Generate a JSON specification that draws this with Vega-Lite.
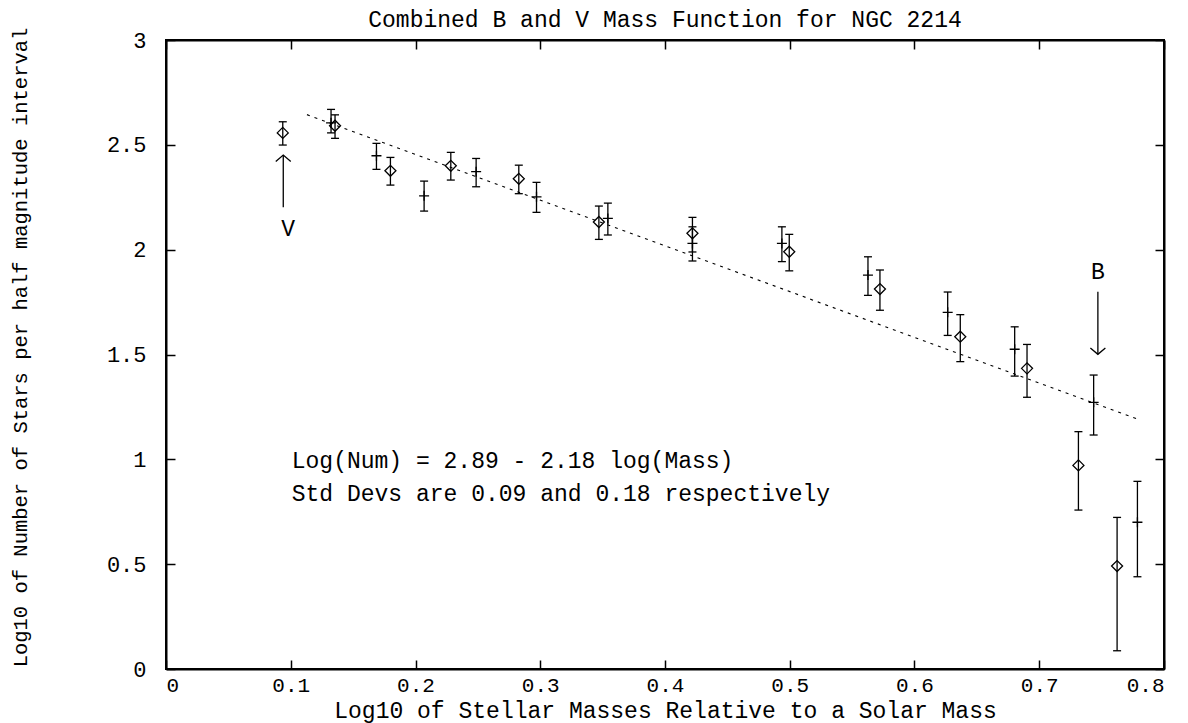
{
  "$schema": "https://vega.github.io/schema/vega-lite/v6.json",
  "width": 998,
  "height": 629,
  "autosize": {"type": "none"},
  "padding": {"left": 166, "top": 40, "right": 24, "bottom": 54},
  "background": "white",
  "title": {
    "text": "Combined B and V Mass Function for NGC 2214",
    "font": "Liberation Mono",
    "fontSize": 23,
    "fontWeight": "normal",
    "color": "black",
    "offset": -5
  },
  "datasets": {
    "points": [
      {"series": "diamond", "x": 0.0936, "y": 2.557, "lo": 2.499, "hi": 2.610},
      {"series": "diamond", "x": 0.1355, "y": 2.591, "lo": 2.531, "hi": 2.643},
      {"series": "diamond", "x": 0.1799, "y": 2.376, "lo": 2.308, "hi": 2.440},
      {"series": "diamond", "x": 0.2283, "y": 2.400, "lo": 2.332, "hi": 2.464},
      {"series": "diamond", "x": 0.2828, "y": 2.338, "lo": 2.267, "hi": 2.403},
      {"series": "diamond", "x": 0.3470, "y": 2.132, "lo": 2.049, "hi": 2.208},
      {"series": "diamond", "x": 0.4220, "y": 2.078, "lo": 1.989, "hi": 2.154},
      {"series": "diamond", "x": 0.4996, "y": 1.990, "lo": 1.899, "hi": 2.073},
      {"series": "diamond", "x": 0.5723, "y": 1.812, "lo": 1.711, "hi": 1.903},
      {"series": "diamond", "x": 0.6367, "y": 1.585, "lo": 1.466, "hi": 1.690},
      {"series": "diamond", "x": 0.6902, "y": 1.434, "lo": 1.296, "hi": 1.548},
      {"series": "diamond", "x": 0.7314, "y": 0.971, "lo": 0.758, "hi": 1.132},
      {"series": "diamond", "x": 0.7624, "y": 0.491, "lo": 0.087, "hi": 0.723},
      {"series": "plus", "x": 0.1323, "y": 2.605, "lo": 2.557, "hi": 2.669},
      {"series": "plus", "x": 0.1687, "y": 2.448, "lo": 2.383, "hi": 2.507},
      {"series": "plus", "x": 0.2069, "y": 2.257, "lo": 2.184, "hi": 2.327},
      {"series": "plus", "x": 0.2486, "y": 2.372, "lo": 2.300, "hi": 2.435},
      {"series": "plus", "x": 0.2970, "y": 2.252, "lo": 2.178, "hi": 2.321},
      {"series": "plus", "x": 0.3542, "y": 2.149, "lo": 2.070, "hi": 2.222},
      {"series": "plus", "x": 0.4220, "y": 2.030, "lo": 1.946, "hi": 2.109},
      {"series": "plus", "x": 0.4937, "y": 2.030, "lo": 1.943, "hi": 2.109},
      {"series": "plus", "x": 0.5627, "y": 1.879, "lo": 1.782, "hi": 1.966},
      {"series": "plus", "x": 0.6266, "y": 1.701, "lo": 1.591, "hi": 1.798},
      {"series": "plus", "x": 0.6803, "y": 1.525, "lo": 1.397, "hi": 1.632},
      {"series": "plus", "x": 0.7436, "y": 1.272, "lo": 1.116, "hi": 1.402},
      {"series": "plus", "x": 0.7787, "y": 0.700, "lo": 0.440, "hi": 0.895}
    ],
    "fit": [
      {"x": 0.113, "y": 2.644},
      {"x": 0.7806, "y": 1.188}
    ],
    "arrows": [
      {"label": "V", "x": 0.094, "tail": 2.202, "tip": 2.451, "dir": "up"},
      {"label": "B", "x": 0.747, "tail": 1.799, "tip": 1.501, "dir": "down"}
    ],
    "letters": [
      {"x": 0.098, "y": 2.10, "text": "V"},
      {"x": 0.747, "y": 1.895, "text": "B"}
    ],
    "notes": [
      {"x": 0.1008, "y": 0.99, "text": "Log(Num) = 2.89 - 2.18 log(Mass)"},
      {"x": 0.1008, "y": 0.835, "text": "Std Devs are 0.09 and 0.18 respectively"}
    ]
  },
  "layer": [
    {
      "layer": [
        {
          "data": {"name": "points"},
          "mark": {"type": "rule", "color": "black", "strokeWidth": 1.3},
          "encoding": {
            "x": {
              "field": "x", "type": "quantitative",
              "scale": {"domain": [0, 0.8], "nice": false, "zero": false},
              "axis": {
                "title": "Log10 of Stellar Masses Relative to a Solar Mass",
                "values": [0, 0.1, 0.2, 0.3, 0.4, 0.5, 0.6, 0.7, 0.8],
                "format": "~g",
                "labelBaseline": "alphabetic",
                "labelPadding": 31,
                "labelFontSize": 21,
                "titleBaseline": "alphabetic",
                "titleY": 48
              }
            },
            "y": {
              "field": "lo", "type": "quantitative",
              "scale": {"domain": [0, 3], "nice": false, "zero": false},
              "axis": {
                "title": "Log10 of Number of Stars per half magnitude interval",
                "values": [0, 0.5, 1, 1.5, 2, 2.5, 3],
                "format": "~g",
                "labelPadding": 29,
                "titleBaseline": "middle",
                "titleX": -146,
                "titleY": 307,
                "titleFontSize": 20.5
              }
            },
            "y2": {"field": "hi"}
          }
        },
        {
          "data": {"name": "points"},
          "mark": {"type": "point", "shape": "M-1,0L1,0", "size": 64, "filled": false, "color": "black", "strokeWidth": 1.3, "opacity": 1},
          "encoding": {
            "x": {"field": "x", "type": "quantitative"},
            "y": {"field": "lo", "type": "quantitative"}
          }
        },
        {
          "data": {"name": "points"},
          "mark": {"type": "point", "shape": "M-1,0L1,0", "size": 64, "filled": false, "color": "black", "strokeWidth": 1.3, "opacity": 1},
          "encoding": {
            "x": {"field": "x", "type": "quantitative"},
            "y": {"field": "hi", "type": "quantitative"}
          }
        },
        {
          "data": {"name": "points"},
          "transform": [{"filter": "datum.series === 'diamond'"}],
          "mark": {"type": "point", "shape": "M-1,0L0,-1L1,0L0,1Z", "size": 121, "filled": false, "color": "black", "strokeWidth": 1.3, "opacity": 1},
          "encoding": {
            "x": {"field": "x", "type": "quantitative"},
            "y": {"field": "y", "type": "quantitative"}
          }
        },
        {
          "data": {"name": "points"},
          "transform": [{"filter": "datum.series === 'plus'"}],
          "mark": {"type": "point", "shape": "M-1,0L1,0M0,-1L0,1", "size": 100, "filled": false, "color": "black", "strokeWidth": 1.3, "opacity": 1},
          "encoding": {
            "x": {"field": "x", "type": "quantitative"},
            "y": {"field": "y", "type": "quantitative"}
          }
        },
        {
          "data": {"name": "fit"},
          "mark": {"type": "line", "color": "black", "strokeWidth": 1.1, "strokeDash": [3, 5]},
          "encoding": {
            "x": {"field": "x", "type": "quantitative"},
            "y": {"field": "y", "type": "quantitative"}
          }
        },
        {
          "data": {"name": "arrows"},
          "mark": {"type": "rule", "color": "black", "strokeWidth": 1.3},
          "encoding": {
            "x": {"field": "x", "type": "quantitative"},
            "y": {"field": "tail", "type": "quantitative"},
            "y2": {"field": "tip"}
          }
        },
        {
          "data": {"name": "arrows"},
          "mark": {"type": "point", "filled": false, "color": "black", "strokeWidth": 1.3, "opacity": 1, "size": 225},
          "encoding": {
            "x": {"field": "x", "type": "quantitative"},
            "y": {"field": "tip", "type": "quantitative"},
            "shape": {
              "field": "dir", "type": "nominal",
              "scale": {"domain": ["up", "down"], "range": ["M-1,0.85L0,0L1,0.85", "M-1,-0.85L0,0L1,-0.85"]},
              "legend": null
            }
          }
        },
        {
          "data": {"name": "letters"},
          "mark": {"type": "text", "font": "Liberation Mono", "fontSize": 23, "color": "black", "baseline": "middle", "align": "center"},
          "encoding": {
            "x": {"field": "x", "type": "quantitative"},
            "y": {"field": "y", "type": "quantitative"},
            "text": {"field": "text"}
          }
        },
        {
          "data": {"name": "notes"},
          "mark": {"type": "text", "font": "Liberation Mono", "fontSize": 23, "color": "black", "baseline": "middle", "align": "left"},
          "encoding": {
            "x": {"field": "x", "type": "quantitative"},
            "y": {"field": "y", "type": "quantitative"},
            "text": {"field": "text"}
          }
        }
      ]
    },
    {
      "data": {"name": "fit"},
      "mark": {"type": "line", "opacity": 0},
      "encoding": {
        "x": {
          "field": "x", "type": "quantitative",
          "axis": {"orient": "top", "labels": false, "title": null, "values": [0, 0.1, 0.2, 0.3, 0.4, 0.5, 0.6, 0.7, 0.8]}
        },
        "y": {
          "field": "y", "type": "quantitative",
          "axis": {"orient": "right", "labels": false, "title": null, "values": [0, 0.5, 1, 1.5, 2, 2.5, 3]}
        }
      }
    }
  ],
  "resolve": {"axis": {"x": "independent", "y": "independent"}},
  "config": {
    "view": {"stroke": "black", "strokeWidth": 2},
    "axis": {
      "domainColor": "black",
      "domainWidth": 2,
      "tickColor": "black",
      "tickWidth": 1.5,
      "tickSize": -9,
      "grid": false,
      "labelFont": "Liberation Mono",
      "labelFontSize": 22,
      "labelColor": "black",
      "titleFont": "Liberation Mono",
      "titleFontSize": 23,
      "titleFontWeight": "normal",
      "titleColor": "black"
    }
  }
}
